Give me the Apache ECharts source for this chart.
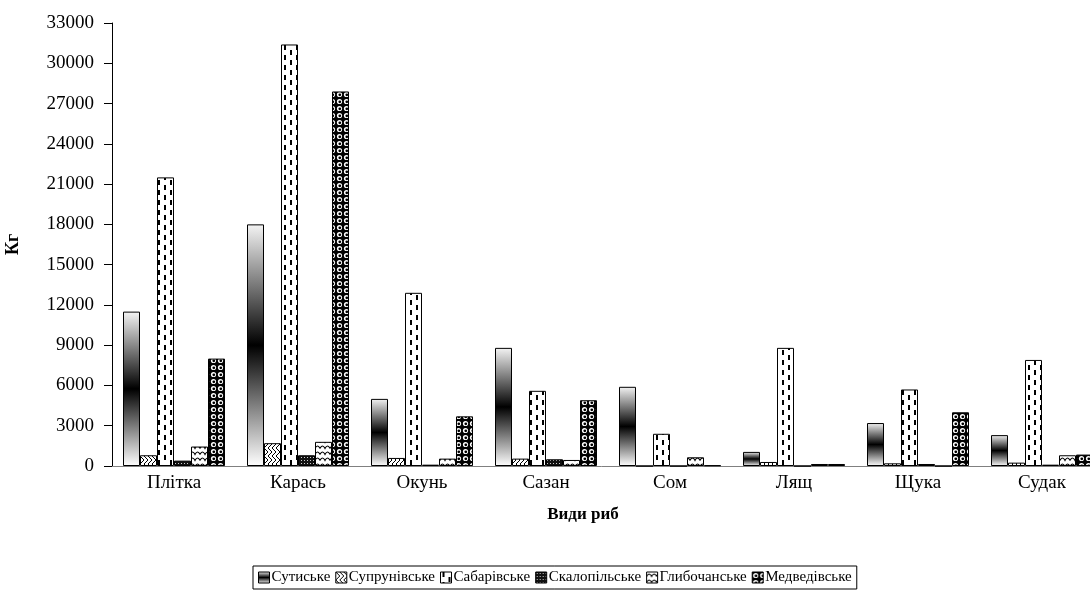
<!DOCTYPE html>
<html>
<head>
<meta charset="utf-8">
<script src="https://cdn.jsdelivr.net/npm/echarts@6/dist/echarts.min.js"></script>
<style>
html,body{margin:0;padding:0;background:#fff;}
#chart{width:1090px;height:601px;}
</style>
</head>
<body>
<div id="chart"></div>
<script>
const categories = ['Плітка','Карась','Окунь','Сазан','Сом','Лящ','Щука','Судак'];
const seriesNames = ['Сутиське','Супрунівське','Сабарівське','Скалопільське','Глибочанське','Медведівське'];
const sutyske       = [11500, 18000, 5000, 8800, 5900, 1050, 3200, 2300];
const suprunivske   = [800, 1700, 600, 550, 0, 300, 200, 250];
const sabarivske    = [21500, 31400, 12900, 5600, 2400, 8800, 5700, 7900];
const skalopilske   = [400, 800, 100, 500, 0, 0, 150, 100];
const hlybochanske  = [1450, 1800, 550, 450, 650, 150, 0, 800];
const medvedivske   = [8000, 27900, 3700, 4900, 50, 150, 4000, 850];
const yTicks = {min: 0, max: 33000, interval: 3000};

function tile(w, h, draw) {
  const c = document.createElement('canvas');
  c.width = w; c.height = h;
  const ctx = c.getContext('2d');
  draw(ctx, w, h);
  return c;
}
const gradFill = {type:'linear', x:0, y:0, x2:0, y2:1, colorStops:[
  {offset:0, color:'#f4f4f4'},{offset:0.5, color:'#000'},{offset:1, color:'#fff'}]};
const zigFill = {repeat:'repeat', image: tile(8, 8, (c,w,h)=>{
  c.fillStyle='#fff'; c.fillRect(0,0,w,h);
  c.strokeStyle='#000'; c.lineWidth=1;
  c.beginPath();
  c.moveTo(0,0); c.lineTo(4,4); c.lineTo(0,8);
  c.moveTo(4,0); c.lineTo(8,4); c.lineTo(4,8);
  c.stroke();
})};
const dashFill = {repeat:'repeat', image: tile(12, 10, (c,w,h)=>{
  c.fillStyle='#fff'; c.fillRect(0,0,w,h);
  c.fillStyle='#000';
  c.fillRect(2,0,2,5);
  c.fillRect(8,5,2,5);
})};
const checkFill = {repeat:'repeat', image: tile(3, 3, (c,w,h)=>{
  c.fillStyle='#111'; c.fillRect(0,0,w,h);
  c.fillStyle='#ccc'; c.fillRect(1,1,1,1);
})};
const waveFill = {repeat:'repeat', image: tile(10, 6, (c,w,h)=>{
  c.fillStyle='#fff'; c.fillRect(0,0,w,h);
  c.strokeStyle='#000'; c.lineWidth=1.1;
  c.beginPath();
  c.moveTo(0,4.5); c.quadraticCurveTo(2.5,-0.5,5,4.5); c.quadraticCurveTo(7.5,-0.5,10,4.5);
  c.stroke();
})};
const dotFill = {repeat:'repeat', image: tile(7, 7, (c,w,h)=>{
  c.fillStyle='#000'; c.fillRect(0,0,w,h);
  c.fillStyle='#fff'; c.beginPath(); c.arc(3.5,3.5,2.6,0,Math.PI*2); c.fill();
  c.fillStyle='#000'; c.beginPath(); c.arc(3.8,3.8,1.4,0,Math.PI*2); c.fill();
})};
const fills = [gradFill, zigFill, dashFill, checkFill, waveFill, dotFill];
const values = [sutyske, suprunivske, sabarivske, skalopilske, hlybochanske, medvedivske];

const font = 'Liberation Serif';
const chart = echarts.init(document.getElementById('chart'));
chart.setOption({
  animation: false,
  backgroundColor: '#fff',
  grid: {left: 112, right: -14, top: 23, bottom: 135, outerBoundsMode: 'none', containLabel: false},
  legend: {
    data: seriesNames,
    left: 253, top: 566,
    icon: 'rect',
    itemWidth: 11, itemHeight: 11, itemGap: 5,
    padding: [4, 5],
    borderColor: '#000', borderWidth: 1, borderRadius: 0,
    textStyle: {fontFamily: font, fontSize: 15, color: '#000', padding: [0,0,0,-3]},
    itemStyle: {borderColor: '#000', borderWidth: 1}
  },
  xAxis: {
    type: 'category', data: categories,
    name: 'Види риб', nameLocation: 'middle', nameGap: 40,
    nameTextStyle: {fontFamily: font, fontSize: 17, fontWeight: 'bold', color: '#000', padding: [0, 50, 0, 0]},
    axisLine: {lineStyle: {color: '#808080', width: 1}},
    axisTick: {length: 6, lineStyle: {color: '#000'}},
    axisLabel: {fontFamily: font, fontSize: 19, color: '#000', margin: 8}
  },
  yAxis: {
    type: 'value', min: yTicks.min, max: yTicks.max, interval: yTicks.interval,
    name: 'Кг', nameLocation: 'middle', nameGap: 90, nameRotate: 90,
    nameTextStyle: {fontFamily: font, fontSize: 18, fontWeight: 'bold', color: '#000'},
    axisLine: {show: true, lineStyle: {color: '#000', width: 1}},
    axisTick: {show: true, length: 8, lineStyle: {color: '#000'}},
    splitLine: {show: false},
    axisLabel: {fontFamily: font, fontSize: 19, color: '#000', margin: 18,
      formatter: v => String(v)}
  },
  series: seriesNames.map((n, i) => ({
    name: n, type: 'bar', data: values[i],
    barWidth: 17, barGap: '0%',
    itemStyle: {color: fills[i], borderColor: '#000', borderWidth: 1}
  }))
});
</script>
</body>
</html>
